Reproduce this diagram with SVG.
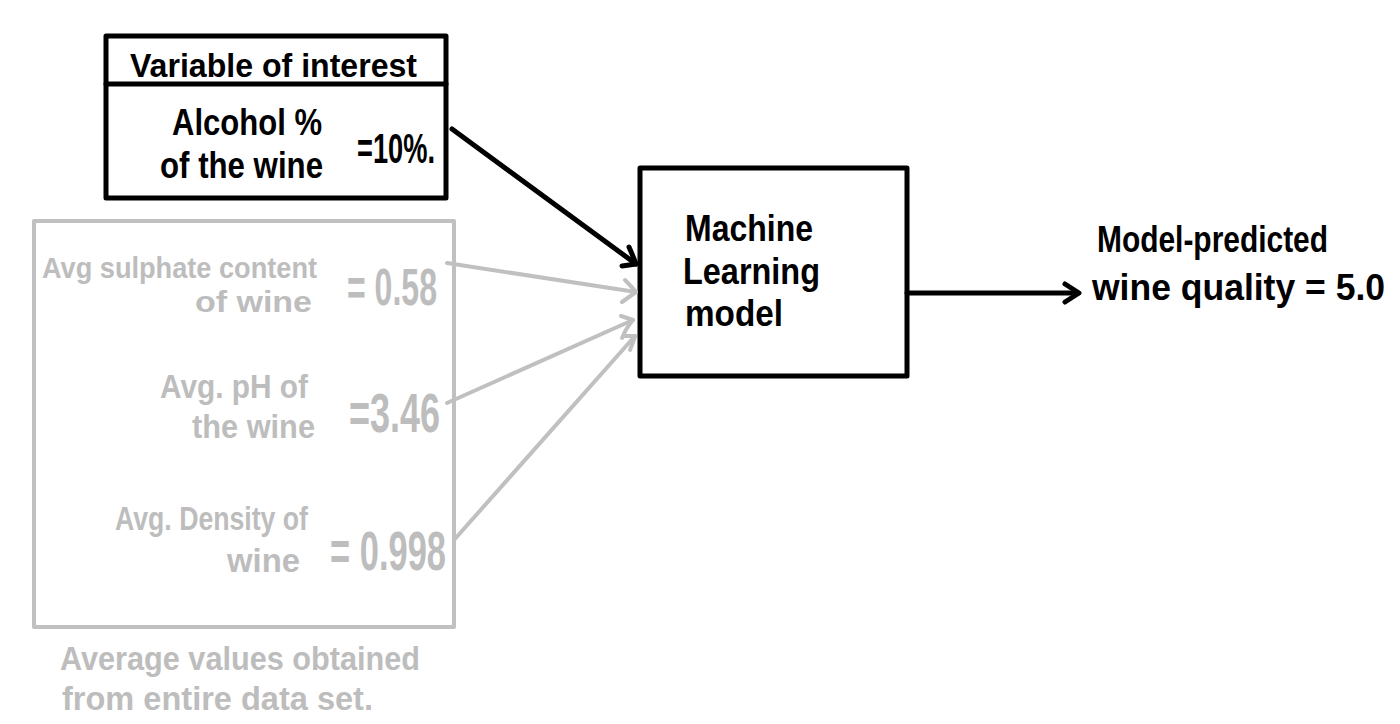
<svg xmlns="http://www.w3.org/2000/svg" width="1400" height="724" viewBox="0 0 1400 724">
<style>
.t{font-family:"Liberation Sans Narrow","Liberation Sans","DejaVu Sans",sans-serif;font-weight:bold;}
.k{fill:#000;}
.g{fill:#bdbdbd;}
.bk{fill:none;stroke:#000;stroke-width:5;stroke-linejoin:round;stroke-linecap:round;}
.gr{fill:none;stroke:#c0c0c0;stroke-width:4;stroke-linejoin:round;stroke-linecap:round;}
</style>
<rect x="0" y="0" width="1400" height="724" fill="#fff"/>
<g id="variable-of-interest">
<rect x="106" y="36" width="340" height="162" class="bk"/>
<line x1="106" y1="84" x2="446" y2="84" class="bk"/>
<text class="t k" x="130" y="77" font-size="34" textLength="287" lengthAdjust="spacingAndGlyphs">Variable of interest</text>
<text class="t k" x="172" y="135" font-size="36" textLength="150" lengthAdjust="spacingAndGlyphs">Alcohol %</text>
<text class="t k" x="160" y="178" font-size="36" textLength="163" lengthAdjust="spacingAndGlyphs">of the wine</text>
<text class="t k" x="357" y="163" font-size="42" textLength="78" lengthAdjust="spacingAndGlyphs">=10%.</text>
</g>
<g id="average-values">
<rect x="34" y="221" width="420" height="406" class="gr"/>
<text class="t g" x="42" y="278" font-size="29" textLength="275" lengthAdjust="spacingAndGlyphs">Avg sulphate content</text>
<text class="t g" x="195" y="312" font-size="29" textLength="117" lengthAdjust="spacingAndGlyphs">of wine</text>
<text class="t g" x="347" y="305" font-size="52" textLength="90" lengthAdjust="spacingAndGlyphs">= 0.58</text>
<text class="t g" x="160" y="398" font-size="33" textLength="148" lengthAdjust="spacingAndGlyphs">Avg. pH of</text>
<text class="t g" x="192" y="438" font-size="33" textLength="123" lengthAdjust="spacingAndGlyphs">the wine</text>
<text class="t g" x="349" y="432" font-size="56" textLength="91" lengthAdjust="spacingAndGlyphs">=3.46</text>
<text class="t g" x="115" y="530" font-size="34" textLength="193" lengthAdjust="spacingAndGlyphs">Avg. Density of</text>
<text class="t g" x="227" y="572" font-size="34" textLength="73" lengthAdjust="spacingAndGlyphs">wine</text>
<text class="t g" x="330" y="570" font-size="56" textLength="116" lengthAdjust="spacingAndGlyphs">= 0.998</text>
<text class="t g" x="60" y="670" font-size="34" textLength="360" lengthAdjust="spacingAndGlyphs">Average values obtained</text>
<text class="t g" x="62" y="710" font-size="34" textLength="311" lengthAdjust="spacingAndGlyphs">from entire data set.</text>
</g>
<g id="ml-model">
<rect x="640" y="168" width="267" height="208" class="bk"/>
<text class="t k" x="685" y="241" font-size="37" textLength="128" lengthAdjust="spacingAndGlyphs">Machine</text>
<text class="t k" x="683" y="284" font-size="37" textLength="137" lengthAdjust="spacingAndGlyphs">Learning</text>
<text class="t k" x="685" y="326" font-size="37" textLength="98" lengthAdjust="spacingAndGlyphs">model</text>
</g>
<g id="output">
<text class="t k" x="1097" y="252" font-size="36" textLength="231" lengthAdjust="spacingAndGlyphs">Model-predicted</text>
<text class="t k" x="1092" y="300" font-size="36" textLength="293" lengthAdjust="spacingAndGlyphs">wine quality = 5.0</text>
</g>
<g id="connectors">
<path class="bk" d="M452,129 L636,264"/>
<path class="bk" d="M629,247 Q633,256 636,264 Q629,265 622,266"/>
<path class="gr" d="M447,263 L636,292"/>
<path class="gr" d="M625,280 Q631,286 636,292 Q629,297 622,302"/>
<path class="gr" d="M447,403 L633,320"/>
<path class="gr" d="M621,316 Q627,318 633,320 Q626,328 622,338"/>
<path class="gr" d="M454,540 L635,336"/>
<path class="gr" d="M624,336 Q630,336 635,336 Q633,343 630,350"/>
<path class="bk" d="M907,293 L1078,293"/>
<path class="bk" d="M1065,284 L1079,293 L1065,302"/>
</g>
</svg>
